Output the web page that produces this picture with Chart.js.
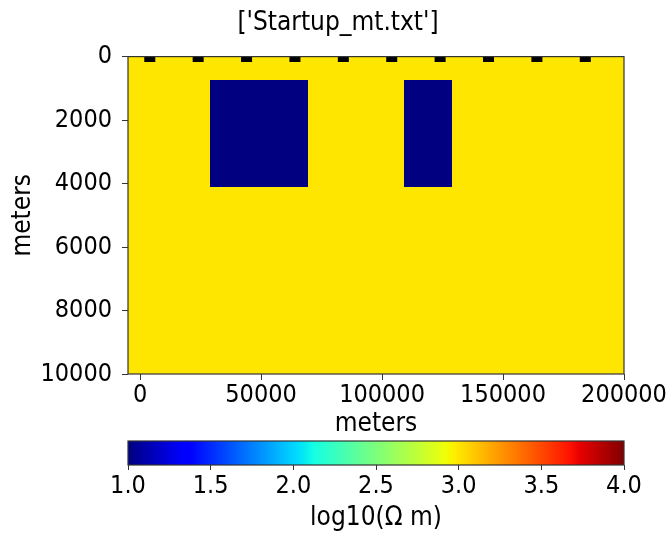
<!DOCTYPE html>
<html>
<head>
<meta charset="utf-8">
<script src="https://cdn.jsdelivr.net/npm/chart.js@4.4.0/dist/chart.umd.min.js"></script>
<style>
  html, body { margin: 0; padding: 0; background: #fff; }
  #wrap { position: relative; width: 668px; height: 537px; overflow: hidden; }
  #main { position: absolute; left: 0; top: 0; }
  #cbar { position: absolute; left: 0; top: 436px; }
</style>
</head>
<body>
<div id="wrap">
  <canvas id="main" width="668" height="440"></canvas>
  <canvas id="cbar" width="668" height="101"></canvas>
</div>
<script>
// Resistivity model mesh: cell edges (metres) and log10 resistivity of each cell.
const xEdges = [-5000, 29000, 69500, 109000, 129000, 200000];
const zEdges = [0, 750, 4100, 10000];
const logRho = [
  [3, 3, 3, 3, 3],
  [3, 1, 3, 1, 3],
  [3, 3, 3, 3, 3]
];

// MT stations along the profile, at the surface.
const stationX = [4000, 24000, 44000, 64000, 84000, 104000, 124000, 144000, 164000, 184000];
const stationZ = [0, 0, 0, 0, 0, 0, 0, 0, 0, 0];

// Axis ticks and colour range.
const xTicks = [0, 50000, 100000, 150000, 200000];
const zTicks = [0, 2000, 4000, 6000, 8000, 10000];
const cbTicks = [1.0, 1.5, 2.0, 2.5, 3.0, 3.5, 4.0];
const cbRange = [1, 4];

const FONT = "'DejaVu Sans Condensed', 'DejaVu Sans', sans-serif";
const tickFont = { family: FONT, size: 25 };
const labelFont = { family: FONT, size: 26 };

// "jet" colour map, piecewise linear per channel.
const JET = {
  r: [[0, 0], [0.35, 0], [0.66, 1], [0.89, 1], [1, 0.5]],
  g: [[0, 0], [0.125, 0], [0.375, 1], [0.64, 1], [0.91, 0], [1, 0]],
  b: [[0, 0.5], [0.11, 1], [0.34, 1], [0.65, 0], [1, 0]]
};
function channel(seg, t) {
  t = Math.min(1, Math.max(0, t));
  for (let k = 1; k < seg.length; k++) {
    const [x0, y0] = seg[k - 1], [x1, y1] = seg[k];
    if (t <= x1) return y0 + (y1 - y0) * (t - x0) / (x1 - x0);
  }
  return seg[seg.length - 1][1];
}
function jetAt(t) {
  const c = ['r', 'g', 'b'].map(ch => Math.round(255 * channel(JET[ch], t)));
  return `rgb(${c[0]},${c[1]},${c[2]})`;
}
function colourFor(v) {
  return jetAt((v - cbRange[0]) / (cbRange[1] - cbRange[0]));
}

// Fills the mesh cells inside the plot area.
const meshPlugin = {
  id: 'mesh',
  beforeDatasetsDraw(chart) {
    const { ctx, chartArea: a, scales: { x, y } } = chart;
    ctx.save();
    ctx.beginPath();
    ctx.rect(a.left, a.top, a.width, a.height);
    ctx.clip();
    for (let j = 0; j < zEdges.length - 1; j++) {
      const y0 = Math.round(y.getPixelForValue(zEdges[j]));
      const y1 = Math.round(y.getPixelForValue(zEdges[j + 1]));
      for (let i = 0; i < xEdges.length - 1; i++) {
        const x0 = Math.round(x.getPixelForValue(xEdges[i]));
        const x1 = Math.round(x.getPixelForValue(xEdges[i + 1]));
        ctx.fillStyle = colourFor(logRho[j][i]);
        ctx.fillRect(x0, y0, x1 - x0, y1 - y0);
      }
    }
    ctx.restore();
  }
};

// Thin frame around the plot area.
const framePlugin = {
  id: 'frame',
  afterDatasetsDraw(chart) {
    const { ctx, chartArea: a } = chart;
    ctx.save();
    ctx.strokeStyle = '#333';
    ctx.lineWidth = 1.2;
    ctx.strokeRect(a.left, a.top, a.width, a.height);
    ctx.restore();
  }
};

// Colour bar gradient over the colour-bar chart area.
const gradientPlugin = {
  id: 'cbarGradient',
  beforeDatasetsDraw(chart) {
    const { ctx, chartArea: a, scales: { x } } = chart;
    const x0 = x.getPixelForValue(cbRange[0]);
    const x1 = x.getPixelForValue(cbRange[1]);
    const g = ctx.createLinearGradient(x0, 0, x1, 0);
    const stops = new Set();
    Object.values(JET).forEach(seg => seg.forEach(p => stops.add(p[0])));
    [...stops].sort((p, q) => p - q).forEach(t => g.addColorStop(t, jetAt(t)));
    ctx.save();
    ctx.fillStyle = g;
    ctx.fillRect(a.left, a.top, a.width, a.height);
    ctx.restore();
  }
};

const plainTicks = values => scale => { scale.ticks = values.map(v => ({ value: v })); };

new Chart(document.getElementById('main'), {
  type: 'scatter',
  data: {
    datasets: [{
      data: stationX.map((x, i) => ({ x, y: stationZ[i] })),
      pointStyle: 'rect',
      pointRadius: 7.8,
      pointHoverRadius: 7.8,
      backgroundColor: '#000',
      borderWidth: 0,
      clip: 0
    }]
  },
  options: {
    responsive: false,
    animation: false,
    events: [],
    layout: { padding: { left: 8, right: 0, top: 0, bottom: 0 }, autoPadding: false },
    plugins: {
      legend: { display: false },
      tooltip: { enabled: false },
      title: {
        display: true,
        text: "['Startup_mt.txt']",
        color: '#000',
        font: { family: FONT, size: 26, weight: 'normal' },
        padding: { top: 8, bottom: 17.4 }
      }
    },
    scales: {
      x: {
        type: 'linear',
        min: xEdges[0],
        max: xEdges[xEdges.length - 1],
        afterBuildTicks: plainTicks(xTicks),
        afterFit(s) { s.height = 66; },
        grid: { drawOnChartArea: false, tickLength: 6, color: '#333' },
        border: { display: false },
        ticks: { color: '#000', font: tickFont, padding: 0, maxRotation: 0, autoSkip: false,
                 callback: v => String(v) },
        title: { display: true, text: 'meters', color: '#000', font: labelFont,
                 padding: { top: 0, bottom: 0 } }
      },
      y: {
        type: 'linear',
        reverse: true,
        min: zEdges[0],
        max: zEdges[zEdges.length - 1],
        afterBuildTicks: plainTicks(zTicks),
        afterFit(s) { s.width = 120; },
        grid: { drawOnChartArea: false, tickLength: 6, color: '#333' },
        border: { display: false },
        ticks: { color: '#000', font: tickFont, padding: 10, autoSkip: false,
                 callback: v => String(v) },
        title: { display: true, text: 'meters', color: '#000', font: labelFont,
                 padding: { top: 0, bottom: 0 } }
      },
      yRight: {
        type: 'linear',
        position: 'right',
        afterFit(s) { s.width = 44; },
        grid: { display: false },
        border: { display: false },
        ticks: { display: false }
      }
    }
  },
  plugins: [meshPlugin, framePlugin]
});

new Chart(document.getElementById('cbar'), {
  type: 'scatter',
  data: { datasets: [] },
  options: {
    responsive: false,
    animation: false,
    events: [],
    layout: { padding: { left: 128, right: 44, top: 5, bottom: 0 }, autoPadding: false },
    plugins: { legend: { display: false }, tooltip: { enabled: false } },
    scales: {
      x: {
        type: 'linear',
        min: cbRange[0],
        max: cbRange[1],
        afterBuildTicks: plainTicks(cbTicks),
        afterFit(s) { s.height = 72; },
        grid: { drawOnChartArea: false, tickLength: 5, color: '#333' },
        border: { display: false },
        ticks: { color: '#000', font: tickFont, padding: 1, maxRotation: 0, autoSkip: false,
                 callback: v => v.toFixed(1) },
        title: { display: true, text: 'log10(Ω m)', color: '#000', font: labelFont,
                 padding: { top: 0, bottom: 3 } }
      },
      y: { display: false, min: 0, max: 1 }
    }
  },
  plugins: [gradientPlugin, framePlugin]
});
</script>
</body>
</html>
